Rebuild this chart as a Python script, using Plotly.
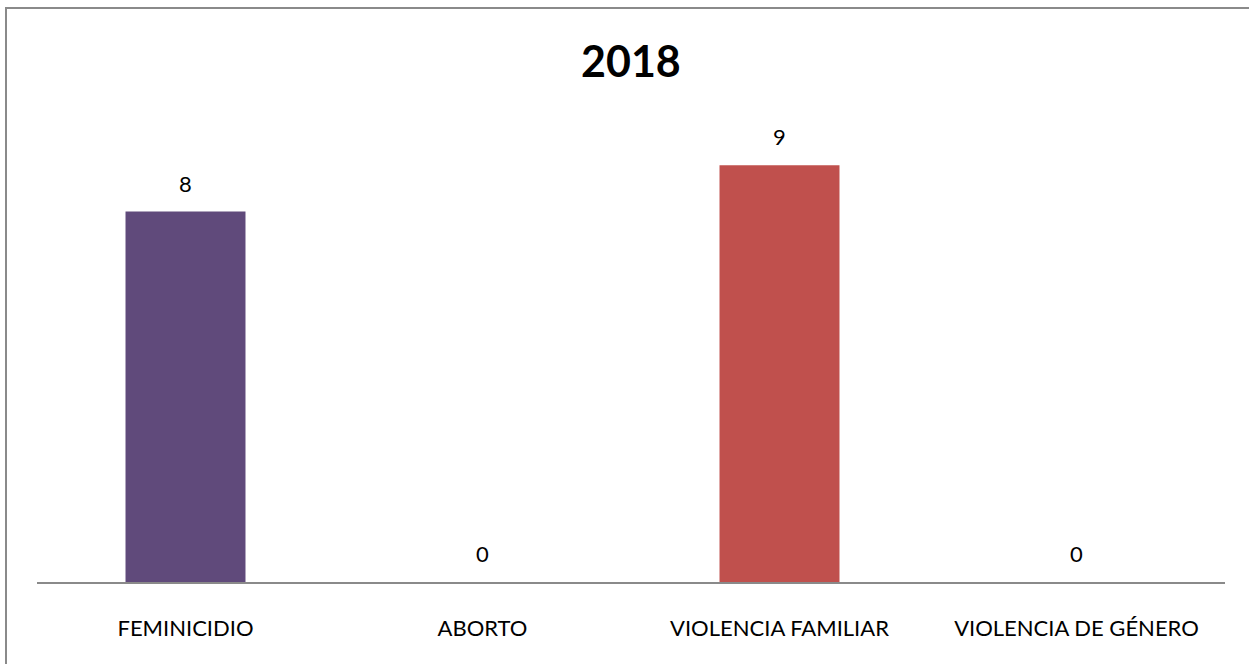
import plotly.graph_objects as go

# Casos registrados por tipo de delito, 2018
categorias = ["FEMINICIDIO", "ABORTO", "VIOLENCIA FAMILIAR", "VIOLENCIA DE GÉNERO"]
casos = [8, 0, 9, 0]
colores = ["#604A7B", "#604A7B", "#C0504D", "#C0504D"]
titulo = "2018"

W, H = 1249, 664
ml, mr, mt, mb = 37, 24, 119, 82
pw, ph = W - ml - mr, H - mt - mb

fig = go.Figure(
    go.Bar(
        x=categorias,
        y=casos,
        marker=dict(color=colores, line=dict(width=0)),
        width=0.404,
        hoverinfo="skip",
    )
)

# Etiquetas de valor sobre cada barra
for c, v in zip(categorias, casos):
    fig.add_annotation(
        x=c, y=v, xref="x", yref="y", text=str(v), showarrow=False,
        yanchor="bottom", yshift=13,
        font=dict(family="Lato, Calibri, sans-serif", size=22, color="#000000"),
    )

# Título del gráfico
fig.add_annotation(
    x=(631 - ml) / pw, y=(H - mb - 61) / ph, xref="paper", yref="paper",
    text="<b>" + titulo + "</b>", showarrow=False,
    xanchor="center", yanchor="middle",
    font=dict(family="Lato, Calibri, sans-serif", size=43, color="#000000"),
)

# Marco exterior del área del gráfico
fig.add_shape(
    type="rect", xref="paper", yref="paper",
    x0=(6 - ml) / pw, x1=1.2, y0=-0.5, y1=(H - mb - 8) / ph,
    line=dict(color="#8A8A8A", width=2), fillcolor="rgba(0,0,0,0)", layer="below",
)

fig.update_layout(
    width=W, height=H,
    margin=dict(l=ml, r=mr, t=mt, b=mb),
    paper_bgcolor="white", plot_bgcolor="white",
    showlegend=False,
    xaxis=dict(
        showline=True, linecolor="#8A8A8A", linewidth=2,
        showgrid=False, ticks="", ticklabelstandoff=26,
        tickfont=dict(family="Lato, Calibri, sans-serif", size=22, color="#000000"),
    ),
    yaxis=dict(range=[0, 10], visible=False, showgrid=False, zeroline=False),
)

fig.write_html("out.html")
